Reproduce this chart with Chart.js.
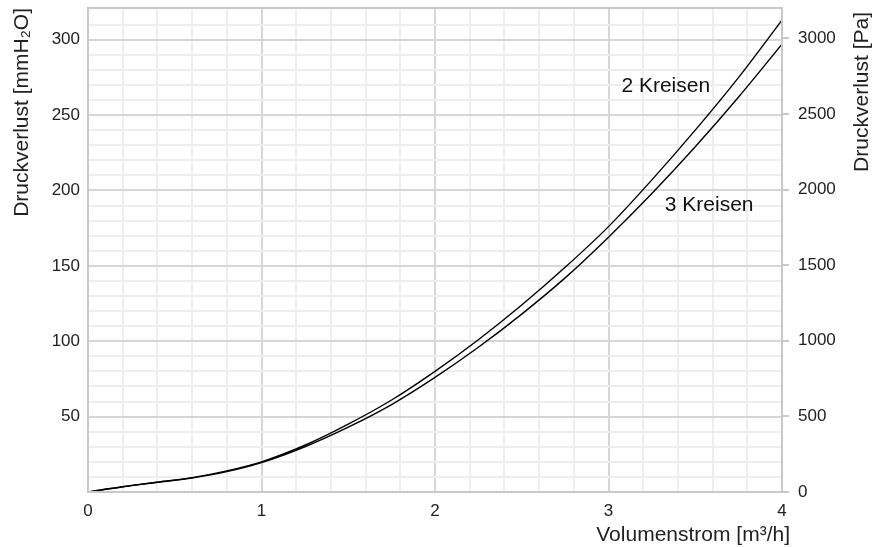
<!DOCTYPE html>
<html>
<head>
<meta charset="utf-8">
<script src="https://cdn.jsdelivr.net/npm/chart.js@4.4.1/dist/chart.umd.min.js"></script>
<style>
  html, body { margin: 0; padding: 0; background: #fff; }
  #wrap { width: 886px; height: 547px; }
</style>
</head>
<body>
<div id="wrap"><canvas id="chart"></canvas></div>
<script>
// Volumenstrom [m3/h]
const flow = [0, 0.2, 0.4, 0.6, 0.8, 1, 1.25, 1.5, 1.75, 2, 2.25, 2.5, 2.75, 3, 3.25, 3.5, 3.75, 4];
// Druckverlust [mmH2O]
const kreise2 = [0, 3.5, 6.5, 9.5, 14, 20, 31, 45, 61, 80, 101, 124, 149, 176, 207, 240, 275, 313];
const kreise3 = [0, 3.5, 6.5, 9.3, 13.5, 19.5, 30, 43, 58, 76, 96, 118, 142, 169, 198, 229, 262, 297];
const seriesNames = ['2 Kreisen', '3 Kreisen'];
// label anchor (Volumenstrom, mmH2O)
const labelPos = [[3.33, 269], [3.58, 190]];
// right axis ticks [Pa]
const paTicks = [0, 500, 1000, 1500, 2000, 2500, 3000];

const majorGrid = '#d6d6d6';
const minorGrid = '#eeeeee';
const fontFam = '"Liberation Sans", Arial, sans-serif';

const toXY = ys => flow.map((x, i) => ({x: x, y: ys[i]}));

const labelsPlugin = {
  id: 'curveLabels',
  afterDatasetsDraw(chart) {
    const {ctx, chartArea, scales} = chart;
    ctx.save();
    ctx.strokeStyle = '#c8c8c8';
    ctx.lineWidth = 2;
    ctx.strokeRect(chartArea.left, chartArea.top, chartArea.right - chartArea.left, chartArea.bottom - chartArea.top);
    ctx.fillStyle = '#111';
    ctx.font = '21px ' + fontFam;
    ctx.textAlign = 'center';
    ctx.textBaseline = 'middle';
    seriesNames.forEach((n, i) => {
      ctx.fillText(n, scales.x.getPixelForValue(labelPos[i][0]), scales.y.getPixelForValue(labelPos[i][1]));
    });
    ctx.fillStyle = '#222';
    // x axis title, right aligned
    ctx.textAlign = 'right';
    ctx.fillText('Volumenstrom [m³/h]', chartArea.right + 8, 535);
    // right axis title, reading upward, aligned to top
    ctx.translate(862, chartArea.top + 4);
    ctx.rotate(-Math.PI / 2);
    ctx.fillText('Druckverlust [Pa]', 0, 0);
    ctx.restore();
  }
};

const ctx = document.getElementById('chart');
new Chart(ctx, {
  type: 'line',
  data: {
    datasets: [
      {label: seriesNames[0], data: toXY(kreise2), borderColor: '#000', borderWidth: 1.4, pointRadius: 0, cubicInterpolationMode: 'monotone', yAxisID: 'y'},
      {label: seriesNames[1], data: toXY(kreise3), borderColor: '#000', borderWidth: 1.4, pointRadius: 0, cubicInterpolationMode: 'monotone', yAxisID: 'y'}
    ]
  },
  options: {
    responsive: true,
    maintainAspectRatio: false,
    animation: false,
    layout: {padding: {top: 8, left: 0, right: 0, bottom: 0}},
    plugins: {legend: {display: false}, tooltip: {enabled: false}},
    scales: {
      x: {
        type: 'linear', min: 0, max: 4,
        ticks: {
          stepSize: 0.2, autoSkip: false, maxRotation: 0, padding: 9,
          color: '#222', font: {size: 17, family: fontFam},
          callback: v => Math.abs(v - Math.round(v)) < 1e-6 ? Math.round(v) : ''
        },
        grid: {
          drawTicks: false, lineWidth: 2,
          color: c => Math.abs(c.tick.value - Math.round(c.tick.value)) < 1e-6 ? majorGrid : minorGrid
        },
        border: {display: false},
        afterFit: s => { s.height = 55; }
      },
      y: {
        type: 'linear', position: 'left', min: 0, max: 321,
        ticks: {
          stepSize: 10, autoSkip: false, padding: 8,
          color: '#222', font: {size: 17, family: fontFam},
          callback: v => (v > 0 && v % 50 === 0) ? v : ''
        },
        grid: {
          drawTicks: false, lineWidth: 2,
          color: c => c.tick.value % 50 === 0 ? majorGrid : minorGrid
        },
        border: {display: false},
        title: {display: true, text: 'Druckverlust [mmH₂O]', align: 'end', color: '#222', font: {size: 21, family: fontFam}, padding: {top: 10, bottom: 0}},
        afterFit: s => { s.width = 88; s.paddingTop = 0; s.paddingBottom = 0; }
      },
      y2: {
        type: 'linear', position: 'right', min: 0, max: 3200,
        afterBuildTicks: s => { s.ticks = paTicks.map(v => ({value: v})); },
        ticks: {
          padding: 9,
          color: '#222', font: {size: 17, family: fontFam},
          callback: v => String(v)
        },
        grid: {drawOnChartArea: false, drawTicks: true, tickLength: 7, lineWidth: 2, color: '#c8c8c8'},
        border: {display: false},
        afterFit: s => { s.width = 104; s.paddingTop = 0; s.paddingBottom = 0; }
      }
    }
  },
  plugins: [labelsPlugin]
});
</script>
</body>
</html>
